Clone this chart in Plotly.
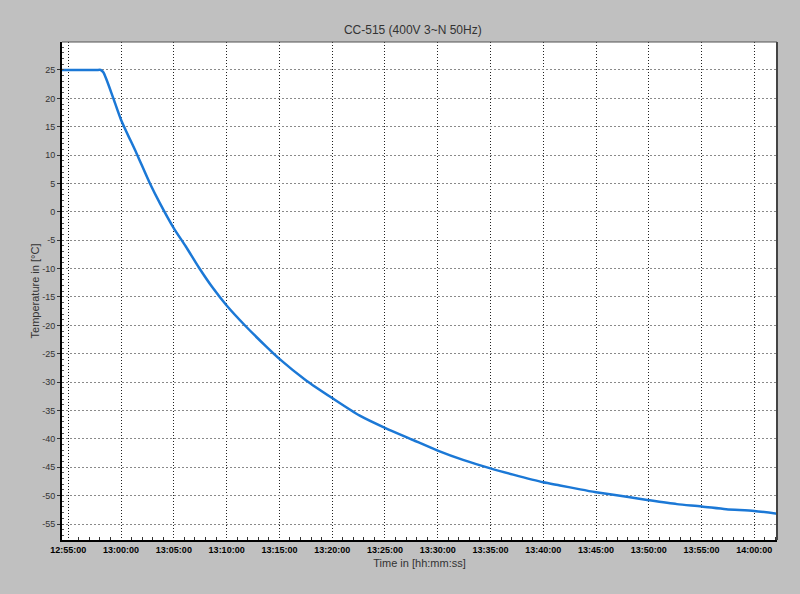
import plotly.graph_objects as go

# ---- data ----
times = [
    "12:54:00", "12:57:40", "12:58:04", "12:58:19", "12:59:16", "13:00:00", "13:01:28",
    "13:02:44", "13:03:41", "13:05:00", "13:06:08", "13:07:24", "13:08:39",
    "13:10:00", "13:11:50", "13:13:44", "13:15:00", "13:17:32", "13:20:00",
    "13:22:37", "13:25:00", "13:27:40", "13:30:00", "13:32:24", "13:35:00",
    "13:37:09", "13:40:00", "13:41:35", "13:43:30", "13:45:00", "13:47:55",
    "13:50:00", "13:52:40", "13:55:00", "13:57:20", "14:00:00", "14:02:30",
]
temps = [
    25.0, 25.0, 25.0, 24.6, 20.0, 16.2, 10.3,
    5.0, 1.5, -2.9, -6.1, -9.9, -13.3,
    -16.5, -20.2, -23.7, -25.9, -29.7, -32.8,
    -35.9, -38.05, -40.2, -42.06, -43.7, -45.2,
    -46.3, -47.65, -48.2, -48.9, -49.4, -50.2,
    -50.8, -51.5, -51.9, -52.4, -52.7, -53.3,
]
day = "2020-01-01 "
x_vals = [day + t for t in times]

title_text = "CC-515 (400V 3~N 50Hz)"
x_title = "Time in [hh:mm:ss]"
y_title = "Temperature in [°C]"
y_ticks = [25, 20, 15, 10, 5, 0, -5, -10, -15, -20, -25, -30, -35, -40, -45, -50, -55]

FONT = "Liberation Sans, Arial, sans-serif"

fig = go.Figure()
fig.add_trace(go.Scatter(
    x=x_vals, y=temps, mode="lines",
    line=dict(color="#1b78d6", width=2.5, shape="spline", smoothing=0.7),
    hoverinfo="skip", showlegend=False,
))

fig.update_layout(
    width=800, height=594,
    margin=dict(l=62, r=23, t=42, b=54),
    paper_bgcolor="#c0c0c0",
    plot_bgcolor="#ffffff",
    font=dict(family=FONT, color="#333333"),
    title=dict(text=title_text, x=0.516, xanchor="center", y=1 - 30 / 594, yanchor="middle",
               font=dict(size=12, color="#333333", family=FONT)),
    showlegend=False,
)

fig.update_xaxes(
    type="date",
    range=[day + "12:54:24", day + "14:02:09"],
    tick0=day + "12:55:00", dtick=300000,
    tickformat="%H:%M:%S",
    tickfont=dict(size=9, color="#000000", family=FONT, weight="bold"),
    ticks="", ticklen=0,
    showgrid=True, gridcolor="#222222", griddash="1px,2px", gridwidth=1,
    showline=True, linecolor="#000000", linewidth=2,
    zeroline=False,
    minor=dict(dtick=60000, tick0=day + "12:55:00", ticks="inside", ticklen=3,
               tickcolor="#333333", showgrid=False),
    title=dict(text=x_title, font=dict(size=11, color="#333333", family=FONT), standoff=6),
)

fig.update_yaxes(
    range=[-57.82, 29.93],
    tickvals=y_ticks,
    ticktext=[str(v) for v in y_ticks],
    tickfont=dict(size=9, color="#333333", family=FONT),
    ticks="outside", ticklen=3, tickcolor="#333333",
    showgrid=True, gridcolor="#8a8a8a", griddash="2px,2px", gridwidth=1,
    showline=True, linecolor="#000000", linewidth=2,
    zeroline=False,
    minor=dict(dtick=1, ticks="inside", ticklen=2, tickcolor="#555555", showgrid=False),
    title=dict(text=y_title, font=dict(size=11, color="#333333", family=FONT), standoff=0),
)

# thin gray frame on top and right
fig.add_shape(type="line", xref="paper", yref="paper", x0=0, x1=1, y0=1, y1=1,
              line=dict(color="#555555", width=1))
fig.add_shape(type="line", xref="paper", yref="paper", x0=1, x1=1, y0=0, y1=1,
              line=dict(color="#444444", width=2))

fig.write_html(
    "out.html",
    config={"displayModeBar": False},
    post_script="document.body.style.margin='0';document.body.style.overflow='hidden';"
                "document.documentElement.style.background='#c0c0c0';",
)
